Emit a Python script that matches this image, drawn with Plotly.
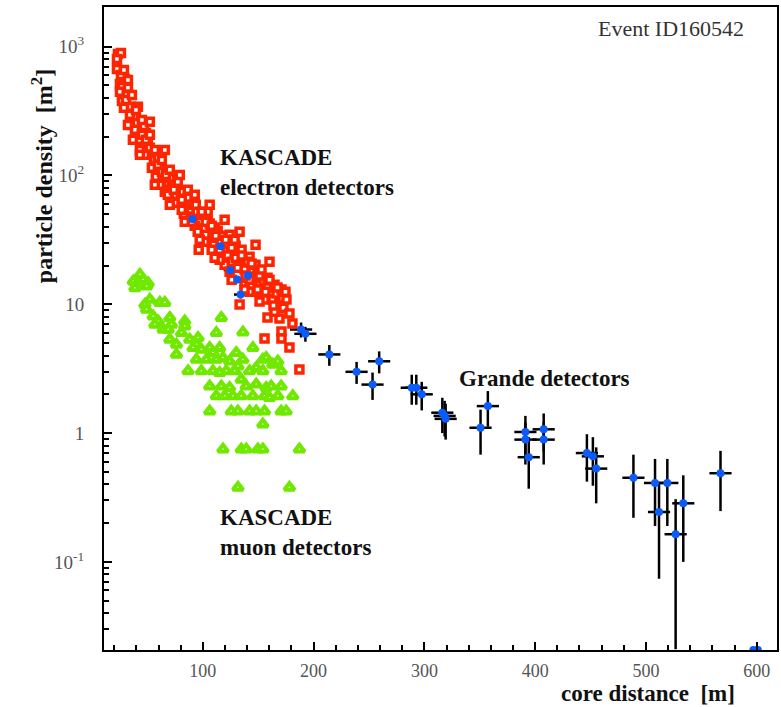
import plotly.graph_objects as go

# ---------------- data ----------------
# KASCADE electron detectors (open red squares)
red_x = [23.4, 26.1, 22.5, 22.5, 29.7, 25.2, 27.0, 25.2, 27.0, 32.4,
         31.5, 35.1, 41.4, 37.8, 40.5, 46.8, 48.6, 43.2, 50.4, 53.1,
         55.8, 58.5, 61.2, 57.6, 63.9, 68.4, 72.0, 65.7, 75.6, 80.1,
         81.9, 77.4, 84.6, 88.2, 82.8, 90.9, 94.5, 97.2, 92.7, 100.8,
         104.4, 106.2, 102.6, 108.9, 113.4, 109.8, 116.1, 118.8, 113.4, 122.4,
         124.2, 126.0, 129.6, 132.3, 135.9, 130.5, 138.6, 142.2, 140.4, 144.9,
         147.6, 149.4, 151.2, 154.8, 153.0, 158.4, 161.1, 162.9, 166.5, 169.2,
         171.9, 175.5, 133.2, 96.3, 81.9, 119.7, 126.0, 137.7, 146.7, 155.7,
         158.4, 169.2, 164.7, 180.9, 171.0, 155.7, 171.0, 178.2, 187.2, 142.2,
         34.2, 38.7, 45.0, 52.2, 59.4, 63.0, 70.2, 74.7, 86.4, 90.9,
         99.0, 104.4, 110.7, 117.0, 122.4, 128.7, 135.0, 140.4, 147.6, 151.2,
         158.4, 164.7, 171.0, 142.2, 137.7, 131.4, 115.2, 108.0, 101.7, 95.4,
         88.2, 81.0, 74.7, 68.4, 61.2, 54.0, 47.7, 43.2, 36.9, 32.4,
         28.8, 30.6, 26.1,
         28.8, 32.4, 36.0, 39.6, 45.0, 48.6, 52.2, 56.7, 59.4, 63.0,
         66.6, 70.2, 73.8, 77.4, 81.0, 86.4, 90.0, 93.6, 99.0, 102.6,
         108.0, 111.6, 115.2, 120.6, 126.0, 129.6, 135.0, 138.6, 144.0, 149.4,
         153.0, 156.6, 160.2, 163.8, 167.4, 172.8, 174.6, 178.2,
         52.2, 65.7, 79.2, 92.7, 106.2, 119.7, 133.2, 147.6, 160.2,
         43.2, 56.7, 70.2, 83.7, 97.2, 110.7, 124.2, 137.7, 151.2]
red_y = [878, 894, 803, 672, 562, 514, 487, 446, 379, 479,
         422, 341, 341, 285, 256, 239, 214, 189, 179, 150,
         132, 117, 111, 97.7, 92.6, 87.8, 81.7, 74.8, 70.8, 74.8,
         65.9, 61.4, 58.2, 54.2, 50.5, 47.8, 52.3, 43.8, 40.8, 38.6,
         52.3, 42.3, 34.7, 32.9, 37.3, 29.0, 30.1, 26.5, 24.7, 23.9,
         34.7, 21.4, 28.5, 23.0, 20.0, 25.6, 22.6, 23.4, 17.9, 18.6,
         16.1, 17.9, 14.2, 15.0, 12.5, 13.5, 11.9, 10.9, 12.1, 10.3,
         11.1, 10.9, 9.95, 26.5, 74.8, 20.3, 15.5, 14.2, 12.5, 10.9,
         7.88, 7.74, 8.77, 7.08, 6.14, 5.42, 5.42, 4.61, 3.12, 12.5,
         296, 226, 207, 164, 137, 107, 95.9, 84.7, 67.1, 59.3,
         49.5, 43.8, 39.4, 34.1, 29.5, 31.7, 26.5, 21.4, 20.3, 16.7,
         16.1, 14.2, 13.0, 15.5, 18.6, 19.2, 22.2, 26.5, 30.6, 36.6,
         43.8, 54.2, 61.4, 70.8, 84.7, 115, 145, 158, 189, 247,
         335, 386, 604,
         659, 552, 422, 323, 270, 189, 207, 158, 121, 132,
         101, 111, 77.5, 89.4, 64.8, 77.5, 43.8, 59.3, 52.3, 43.8,
         40.8, 34.1, 26.5, 31.7, 27.5, 23.0, 23.9, 16.7, 20.7, 13.0,
         18.6, 12.5, 15.5, 9.77, 13.5, 9.42, 12.5, 8.47,
         261, 158, 101, 70.8, 59.3, 45.4, 36.6, 29.0, 21.4,
         145, 84.7, 59.3, 43.8, 31.7, 23.0, 17.9, 13.0, 10.5]

# KASCADE muon detectors (green triangles)
green_x = [43.2, 37.2, 40.2, 46.2, 50.7, 49.2, 38.7, 52.2, 47.7, 49.2,
           61.2, 65.7, 55.2, 59.7, 56.7, 70.2, 71.7, 64.2, 68.7, 83.7,
           83.7, 80.7, 70.2, 76.2, 88.2, 95.7, 94.2, 76.2, 112.2, 116.7,
           136.2, 91.2, 98.7, 94.2, 106.2, 109.2, 115.2, 103.2, 112.2, 118.2,
           86.7, 98.7, 130.2, 136.2, 145.2, 124.2, 131.7, 109.2, 115.2, 121.2,
           128.7, 142.2, 148.2, 154.2, 157.2, 163.2, 167.7, 170.7, 154.2, 106.2,
           116.7, 124.2, 134.7, 139.2, 148.2, 157.2, 161.7, 170.7, 112.2, 119.7,
           127.2, 134.7, 145.2, 155.7, 160.2, 167.7, 181.2, 106.2, 125.7, 131.7,
           142.2, 148.2, 155.7, 170.7, 175.2, 154.2, 118.2, 134.7, 139.2, 149.7,
           154.2, 187.2, 131.7, 178.2]
green_y = [17.0, 15.1, 14.2, 15.5, 14.6, 13.8, 13.4, 10.9, 9.95, 9.1,
           10.3, 10.3, 8.07, 7.38, 6.96, 7.85, 6.96, 6.37, 6.37, 7.38,
           6.75, 6.0, 5.32, 4.88, 5.32, 5.50, 4.88, 4.07, 6.0, 7.85,
           6.07, 4.59, 4.46, 3.72, 4.59, 4.20, 4.59, 3.72, 3.72, 3.84,
           3.03, 3.03, 4.20, 3.72, 4.59, 3.61, 3.31, 3.03, 2.94, 3.03,
           3.03, 3.03, 3.21, 3.72, 3.84, 3.41, 3.61, 3.03, 3.03, 2.31,
           2.31, 2.25, 2.61, 2.31, 2.39, 2.25, 2.31, 2.31, 1.94, 1.94,
           1.94, 1.94, 1.94, 1.94, 1.88, 1.94, 1.94, 1.48, 1.48, 1.48,
           1.48, 1.48, 1.48, 1.48, 1.48, 1.17, 0.748, 0.748, 0.748, 0.748,
           0.748, 0.748, 0.378, 0.378]

# Grande detectors (blue dots with error crosses)
grande_x = [188.7, 192.6, 214.2, 238.8, 259.2, 253.2, 288.6, 292.7, 297.6, 316.2,
            318.3, 319.2, 357.3, 350.7, 391.2, 391.2, 394.2, 407.7, 407.7, 446.7,
            452.1, 455.1, 488.7, 508.2, 519.3, 511.8, 526.8, 533.7, 567.3,
            90.6, 115.8, 124.8, 131.1, 140.7, 134.1, 597.0, 601.0]
grande_y = [6.37, 5.9, 4.08, 2.99, 3.61, 2.38, 2.25, 2.25, 2.0, 1.44,
            1.36, 1.29, 1.62, 1.10, 1.02, 0.89, 0.65, 1.07, 0.89, 0.70,
            0.66, 0.53, 0.45, 0.41, 0.41, 0.244, 0.164, 0.285, 0.488,
            45.9, 28.2, 18.4, 15.6, 16.7, 11.9, 0.0207, 0.0207]
grande_err_y = [0.85, 0.78, 0.75, 0.58, 0.70, 0.57, 0.59, 0.59, 0.50, 0.44,
                0.42, 0.40, 0.50, 0.42, 0.34, 0.32, 0.28, 0.35, 0.32, 0.28,
                0.27, 0.245, 0.23, 0.22, 0.22, 0.17, 0.143, 0.185, 0.24,
                3.0, 2.0, 1.2, 1.0, 1.0, 0.8, 0.0, 0.0]
grande_err_x = [10] * 29 + [6] * 6 + [0, 0]

# axis tick labels
x_tick_vals = [100, 200, 300, 400, 500, 600]
y_tick_vals = [0.1, 1, 10, 100, 1000]
y_tick_text = ["10<sup>-1</sup>", "1", "10", "10<sup>2</sup>", "10<sup>3</sup>"]

RED = "#ff2400"
GREEN = "#70e800"
BLUE = "#0a5cff"
SERIF = "Liberation Serif, Times New Roman, serif"

fig = go.Figure()

# Grande error crosses (below everything)
fig.add_trace(go.Scatter(
    x=grande_x, y=grande_y, mode="markers",
    marker=dict(size=1, color="rgba(0,0,0,0)"),
    error_y=dict(type="data", array=grande_err_y, color="black", thickness=2.5, width=0),
    error_x=dict(type="data", array=grande_err_x, color="black", thickness=2.5, width=0),
    showlegend=False, hoverinfo="skip"))

fig.add_trace(go.Scatter(
    x=green_x, y=green_y, mode="markers",
    marker=dict(symbol="triangle-up", size=9, color="white",
                line=dict(width=4, color=GREEN)),
    showlegend=False))

fig.add_trace(go.Scatter(
    x=red_x, y=red_y, mode="markers",
    marker=dict(symbol="square", size=7, color="white",
                line=dict(width=3.5, color=RED)),
    showlegend=False))

# Grande dots on top
fig.add_trace(go.Scatter(
    x=grande_x, y=grande_y, mode="markers",
    marker=dict(size=8, color=BLUE),
    showlegend=False))

minor_y = [m * 10 ** e for e in range(-2, 4) for m in range(2, 10)]

fig.update_xaxes(
    range=[10.8, 618.3], showgrid=False, zeroline=False,
    showline=True, linecolor="black", linewidth=2, mirror=True,
    ticks="inside", ticklen=8, tickwidth=2, tickcolor="black",
    tickvals=x_tick_vals, ticklabelstandoff=3,
    minor=dict(ticks="inside", ticklen=5, tickwidth=2, tickcolor="black", dtick=20, tick0=0),
    tickfont=dict(family=SERIF, size=18, color="#555555"))

fig.update_yaxes(
    type="log", range=[-1.684, 3.308], showgrid=False, zeroline=False,
    showline=True, linecolor="black", linewidth=2, mirror=True,
    ticks="inside", ticklen=8, tickwidth=2, tickcolor="black",
    tickvals=y_tick_vals, ticktext=y_tick_text, ticklabelstandoff=14,
    minor=dict(ticks="inside", ticklen=5, tickwidth=1.5, tickcolor="black", tickvals=minor_y),
    tickfont=dict(family=SERIF, size=19, color="#555555"))

annots = [
    dict(text="Event ID160542", x=0.954, y=0.967, xanchor="right", yanchor="middle",
         font=dict(family=SERIF, size=22, color="#333333")),
    dict(text="<b>KASCADE<br>electron detectors</b>", x=0.169, y=0.743, xanchor="left",
         yanchor="middle", align="left", font=dict(family=SERIF, size=23, color="#111111")),
    dict(text="<b>Grande detectors</b>", x=0.524, y=0.423, xanchor="left", yanchor="middle",
         font=dict(family=SERIF, size=23, color="#111111")),
    dict(text="<b>KASCADE<br>muon detectors</b>", x=0.169, y=0.1835, xanchor="left",
         yanchor="middle", align="left", font=dict(family=SERIF, size=23, color="#111111")),
    dict(text="<b>particle density &nbsp;[m<sup>2</sup>]</b>", x=-0.092, y=0.737, textangle=-90,
         xanchor="center", yanchor="middle", font=dict(family=SERIF, size=24, color="#111111")),
    dict(text="<b>core distance &nbsp;[m]</b>", x=0.941, y=-0.067, xanchor="right",
         yanchor="middle", font=dict(family=SERIF, size=23, color="#111111")),
]
for a in annots:
    a.update(xref="paper", yref="paper", showarrow=False)

fig.update_layout(
    width=781, height=707,
    margin=dict(l=104, r=2, t=7, b=57),
    paper_bgcolor="white", plot_bgcolor="white",
    annotations=annots, showlegend=False)

fig.write_html("out.html")
